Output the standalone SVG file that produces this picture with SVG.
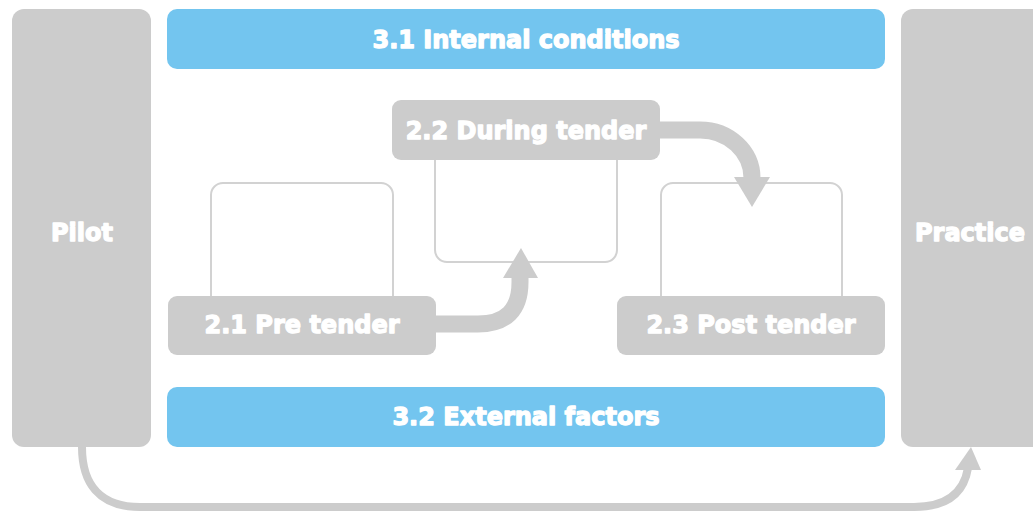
<svg xmlns="http://www.w3.org/2000/svg" width="1033" height="512" viewBox="0 0 1033 512">
<style>
.gray{fill:#cccccc}
.blue{fill:#73c5ef}
.outline{fill:#ffffff;stroke:#d2d2d2;stroke-width:2}
.lbl{fill:#ffffff;stroke:#ffffff;stroke-width:1.3;stroke-linejoin:round;font-family:"DejaVu Sans",sans-serif;font-weight:bold;text-anchor:middle;dominant-baseline:central;font-size:24px}
.conn{fill:none;stroke:#cccccc}
.head{fill:#cccccc}
</style>
<rect width="1033" height="512" fill="#ffffff"/>
<g id="pilot"><rect class="gray" x="12" y="9" width="139" height="438" rx="12"/><text class="lbl" x="82" y="233">Pilot</text></g>
<g id="practice"><rect class="gray" x="901" y="9" width="150" height="438" rx="12"/><text class="lbl" x="970" y="233">Practice</text></g>
<g id="internal"><rect class="blue" x="167" y="9" width="718" height="60" rx="10"/><text class="lbl" x="526" y="40">3.1 Internal conditions</text></g>
<g id="external"><rect class="blue" x="167" y="387" width="718" height="60" rx="10"/><text class="lbl" x="526" y="417">3.2 External factors</text></g>
<g id="pre"><rect class="outline" x="211" y="183" width="182" height="130" rx="12"/><rect class="gray" x="168" y="296" width="268" height="59" rx="9"/><text class="lbl" x="302" y="325">2.1 Pre tender</text></g>
<g id="during"><rect class="outline" x="435" y="140" width="182" height="122" rx="12"/><rect class="gray" x="392" y="100" width="268" height="60" rx="9"/><text class="lbl" x="526" y="131">2.2 During tender</text></g>
<g id="post"><rect class="outline" x="661" y="183" width="181" height="130" rx="12"/><rect class="gray" x="617" y="296" width="268" height="59" rx="9"/><text class="lbl" x="751" y="325">2.3 Post tender</text></g>
<g id="connectors">
<path class="conn" stroke-width="17" d="M430,324 H478 Q520,324 520,282 V276"/>
<polygon class="head" points="503,278 538,278 521,248"/>
<path class="conn" stroke-width="17" d="M655,130 H700 A52,48 0 0 1 752,178 V179"/>
<polygon class="head" points="734,177 770,177 752,207"/>
<path class="conn" stroke-width="8" d="M82,447 C82,482 98,507 140,507 H914 C948,507 964,492 968,468"/>
<polygon class="head" points="955,470 981,470 971,447"/>
</g>
</svg>
